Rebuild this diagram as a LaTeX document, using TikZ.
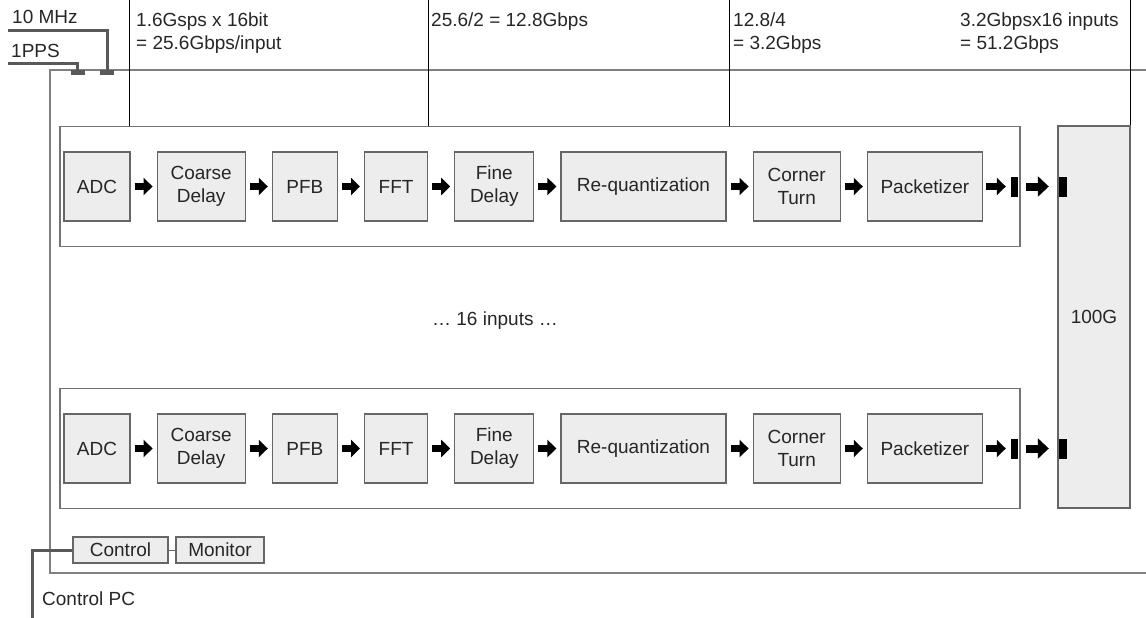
\documentclass[tikz,border=0pt]{standalone}
\usepackage{fontspec}
\setmainfont{Liberation Sans}
\usetikzlibrary{positioning,arrows.meta}

\tikzstyle{every node}=[font=\fontsize{19}{23}\selectfont, text=black!85]

\begin{document}
\begin{tikzpicture}[x=1pt, y=-1pt,
    blk/.style={draw=black!60, fill=black!7, line width=1.2pt, inner sep=0pt,
                minimum height=69pt, align=center},
    frame/.style={draw=black!55, line width=1.2pt, inner sep=0pt},
    bar/.style={fill=black, inner sep=0pt, minimum width=7pt, minimum height=20pt},
    barrow/.style={line width=7pt, -{Triangle[length=9pt,width=17pt]}},
    bigarrow/.style={line width=8pt, -{Triangle[length=11pt,width=20pt]}},
    port/.style={fill=black!65, inner sep=0pt, minimum width=14pt, minimum height=5pt},
    cable/.style={draw=black!65, line width=3pt},
    note/.style={anchor=base west, inner sep=0pt, align=left}]

    \useasboundingbox (0,0) rectangle (1146,618);

    % chassis
    \draw[draw=black!50, line width=1.4pt] (1146,70) -- (50,70) -- (50,573) -- (1146,573);

    % 100G output
    \node[blk, minimum width=72pt, minimum height=382pt] (hg) at (1094,317) {100G};

    % signal chain, one per input
    \foreach \r/\y in {1/186.5, 2/448.5} {
        \node[frame, minimum width=960pt, minimum height=120pt] (row\r) at (540,\y) {};
        \node[blk, minimum width=66pt] (adc\r) at (97,\y) {ADC};
        \node[blk, minimum width=88pt, right=26pt of adc\r] (cdly\r) {Coarse\\Delay};
        \node[blk, minimum width=65pt, right=26pt of cdly\r] (pfb\r) {PFB};
        \node[blk, minimum width=63pt, right=26pt of pfb\r] (fft\r) {FFT};
        \node[blk, minimum width=79pt, right=26pt of fft\r] (fdly\r) {Fine\\Delay};
        \node[blk, minimum width=165pt, right=26pt of fdly\r] (requant\r) {Re-quantization};
        \node[blk, minimum width=87pt, right=26pt of requant\r] (ct\r) {Corner\\Turn};
        \node[blk, minimum width=115pt, right=26pt of ct\r] (pack\r) {Packetizer};
        \node[bar] (out\r) at (1014.5,\y) {};
        \node[bar, minimum width=8pt] (in\r) at (1063,\y) {};

        \foreach \a/\b in {adc/cdly, cdly/pfb, pfb/fft, fft/fdly, fdly/requant, requant/ct, ct/pack}
            \draw[barrow, shorten <=4pt, shorten >=4pt] (\a\r) -- (\b\r);
        \draw[barrow, shorten <=3pt, shorten >=5pt] (pack\r) -- (out\r);
        \draw[bigarrow, shorten <=8pt, shorten >=10pt] (out\r) -- (in\r);
    }

    \node (dots) at (495,321) {… 16 inputs …};

    % data rates
    \coordinate (r1) at (129,0);
    \coordinate (r2) at (428,0);
    \coordinate (r3) at (729,0);
    \coordinate (r4) at (1130,0);
    \draw (r1) -- (r1 |- row1.north);
    \draw (r2) -- (r2 |- row1.north);
    \draw (r3) -- (r3 |- row1.north);
    \draw (r4) -- (r4 |- hg.north);
    \node[note] at (136,49) {1.6Gsps x 16bit\\= 25.6Gbps/input};
    \node[note] at (431,27) {25.6/2 = 12.8Gbps};
    \node[note] at (733,50) {12.8/4\\= 3.2Gbps};
    \node[note] at (960,50) {3.2Gbpsx16 inputs\\= 51.2Gbps};

    % reference inputs
    \node[port] (tenin) at (107,72.5) {};
    \node[port] (ppsin) at (77.5,72.5) {};
    \coordinate (tensrc) at (8,31);
    \coordinate (ppssrc) at (8,64);
    \draw[cable] (tensrc) -| (tenin.north);
    \draw[cable] (ppssrc) -| (ppsin.north);
    \node[note] at (12,24) {10 MHz};
    \node[note] at (11,58) {1PPS};

    % control
    \node[blk, minimum width=95pt, minimum height=26pt] (ctrl) at (120.5,550) {Control};
    \node[blk, minimum width=88pt, minimum height=26pt] (mon) at (220,550) {Monitor};
    \draw[draw=black!60, line width=1pt] (ctrl) -- (mon);
    \coordinate (pc) at (32,618);
    \draw[cable] (ctrl.west) -| (pc);
    \node[note] at (42,605) {Control PC};
\end{tikzpicture}
\end{document}
